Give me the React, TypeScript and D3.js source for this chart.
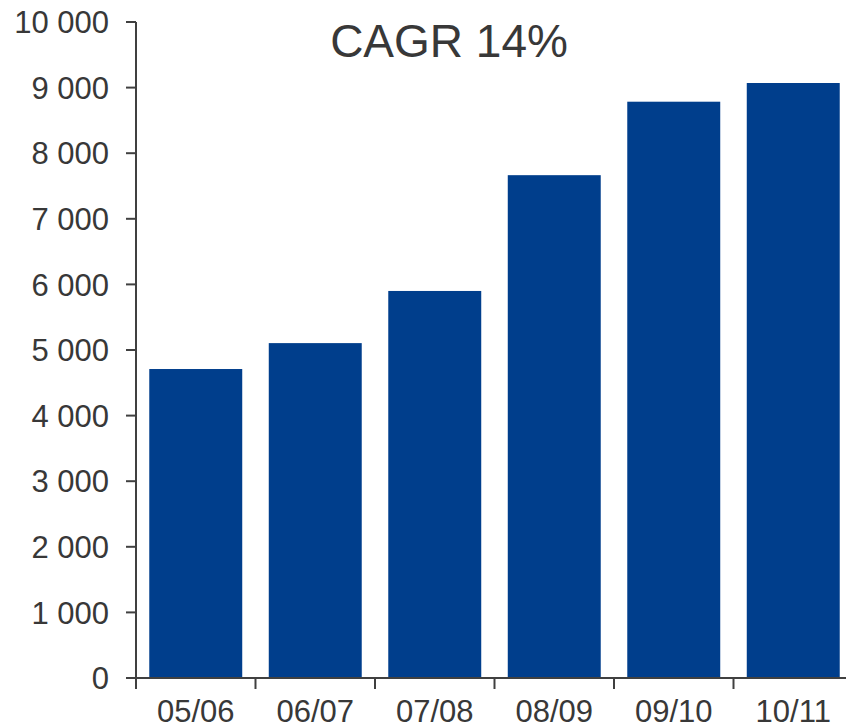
import React from "react";
import * as d3 from "d3";

const categories = ["05/06", "06/07", "07/08", "08/09", "09/10", "10/11"];
const values = [4710, 5105, 5900, 7665, 8785, 9070];
const yTicks = [0, 1000, 2000, 3000, 4000, 5000, 6000, 7000, 8000, 9000, 10000];
const title = "CAGR 14%";

const W = 846;
const H = 728;
const FONT = "Liberation Sans, Arial, sans-serif";
const TEXT = "#383838";
const AXIS = "#404040";
const BAR = "#003E8C";

export default function App() {
  const x = d3.scaleBand<string>().domain(categories).range([136, 853]).padding(0);
  const y = d3.scaleLinear().domain([0, 10000]).range([678, 22]);
  const step = x.step();
  const barW = step * 0.778;
  const fmt = (v: number) => d3.format(",")(v).replace(/,/g, " ");

  return (
    <svg
      width={W}
      height={H}
      style={{ position: "absolute", left: 0, top: 0, background: "#fff" }}
      fontFamily={FONT}
    >
      <rect width={W} height={H} fill="#fff" />
      {categories.map((c, i) => (
        <rect
          key={c}
          x={(x(c) as number) + (step - barW) / 2}
          y={y(values[i])}
          width={barW}
          height={y(0) - y(values[i])}
          fill={BAR}
        />
      ))}
      {/* y axis */}
      <line x1={136} x2={136} y1={y(10000)} y2={689} stroke={AXIS} strokeWidth={2} />
      {yTicks.map((t) => (
        <g key={t}>
          <line x1={126} x2={136} y1={y(t)} y2={y(t)} stroke={AXIS} strokeWidth={2} />
          <text
            x={109}
            y={y(t)}
            dy="0.36em"
            textAnchor="end"
            fontSize={31}
            fill={TEXT}
          >
            {fmt(t)}
          </text>
        </g>
      ))}
      {/* x axis */}
      <line x1={135} x2={W} y1={y(0)} y2={y(0)} stroke={AXIS} strokeWidth={2} />
      {categories.map((c) => (
        <g key={c}>
          <line
            x1={x(c) as number}
            x2={x(c) as number}
            y1={y(0)}
            y2={689}
            stroke={AXIS}
            strokeWidth={2}
          />
          <text
            x={(x(c) as number) + step / 2}
            y={722}
            textAnchor="middle"
            fontSize={31}
            fill={TEXT}
          >
            {c}
          </text>
        </g>
      ))}
      <text x={449} y={57} textAnchor="middle" fontSize={46} fill={TEXT}>
        {title}
      </text>
    </svg>
  );
}
